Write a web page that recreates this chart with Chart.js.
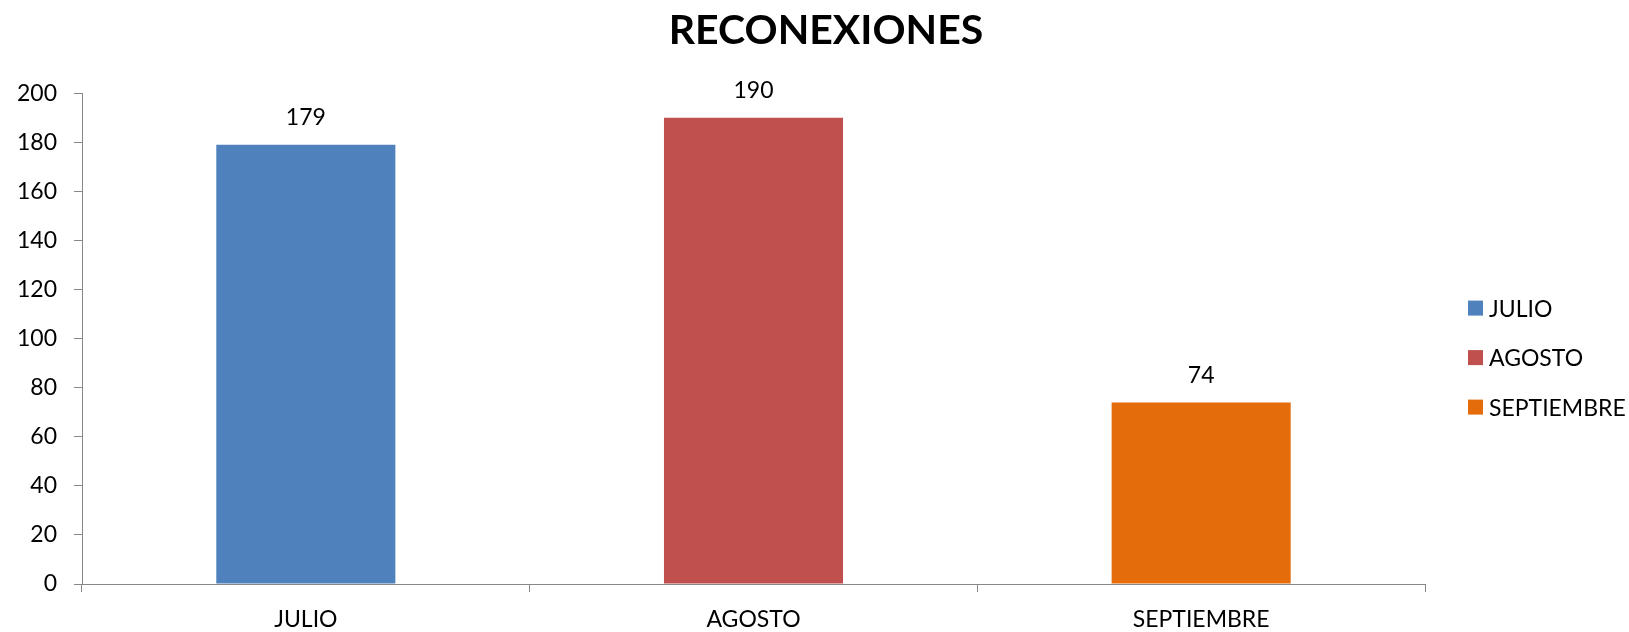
<!DOCTYPE html>
<html>
<head>
    <meta charset="utf-8" />
    <title>Reconexiones</title>
    <style>
        body {
            margin: 0;
            background: #fff;
        }
    </style>
</head>
<body>
    <canvas id="chartCanvas" width="1629" height="632"></canvas>

<script src="https://cdn.jsdelivr.net/npm/chart.js@4.4.0/dist/chart.umd.min.js"></script>
<script>
    // data
    var months = ["JULIO", "AGOSTO", "SEPTIEMBRE"];
    var reconexiones = [179, 190, 74];
    var barColors = ["#4F81BD", "#C0504D", "#E46C0A"];
    var yTicks = [0, 20, 40, 60, 80, 100, 120, 140, 160, 180, 200];

    var fontFamily = "Lato, 'Open Sans', sans-serif";
    var axisGray = "#888888";

    // values above each bar
    var valueLabels = {
        id: 'valueLabels',
        afterDatasetsDraw: function (chart) {
            var ctx = chart.ctx;
            var meta = chart.getDatasetMeta(0);
            ctx.save();
            ctx.font = "23px " + fontFamily;
            ctx.fillStyle = "#000";
            ctx.textAlign = "center";
            ctx.textBaseline = "middle";
            meta.data.forEach(function (bar, i) {
                ctx.fillText(String(reconexiones[i]), bar.x, bar.y - 27);
            });
            ctx.restore();
        }
    };

    // legend on the right, one entry per month
    var sideLegend = {
        id: 'sideLegend',
        afterDraw: function (chart) {
            var ctx = chart.ctx;
            var area = chart.chartArea;
            var mid = (area.top + area.bottom) / 2 + 19;
            var x = area.right + 43;
            ctx.save();
            ctx.font = "23px " + fontFamily;
            ctx.textAlign = "left";
            ctx.textBaseline = "middle";
            months.forEach(function (m, i) {
                var y = mid + (i - 1) * 49.5;
                ctx.fillStyle = barColors[i];
                ctx.fillRect(x, y - 7.5, 15, 15);
                ctx.fillStyle = "#000";
                ctx.fillText(m, x + 21, y + 1);
            });
            ctx.restore();
        }
    };

    var ctx_1 = document.getElementById("chartCanvas").getContext("2d");
    var chart1 = new Chart(ctx_1, {
        type: "bar",
        data: {
            labels: months,
            datasets: [{
                label: "RECONEXIONES",
                data: reconexiones,
                backgroundColor: barColors,
                borderWidth: 0,
                barPercentage: 0.4,
                categoryPercentage: 1.0
            }]
        },
        plugins: [valueLabels, sideLegend],
        options: {
            responsive: false,
            animation: false,
            layout: {
                // negative right padding pushes the title centre right, like the original
                padding: { left: 0, right: -23, top: 0, bottom: 0 }
            },
            plugins: {
                legend: { display: false },
                tooltip: { enabled: false },
                title: {
                    display: true,
                    text: "RECONEXIONES",
                    color: "#000",
                    font: { family: fontFamily, size: 41, weight: "bold" },
                    padding: { top: 6, bottom: 38 }
                }
            },
            scales: {
                x: {
                    afterFit: function (axis) { axis.height = 48; },
                    grid: {
                        offset: true,
                        drawOnChartArea: false,
                        drawTicks: true,
                        tickLength: 8,
                        color: axisGray
                    },
                    border: { color: axisGray, width: 1 },
                    ticks: {
                        color: "#000",
                        padding: 14,
                        font: { family: fontFamily, size: 23 }
                    }
                },
                y: {
                    min: 0,
                    max: 200,
                    afterFit: function (axis) { axis.width = 82; },
                    afterBuildTicks: function (axis) {
                        axis.ticks = yTicks.map(function (v) { return { value: v }; });
                    },
                    grid: {
                        drawOnChartArea: false,
                        drawTicks: true,
                        tickLength: 8,
                        color: axisGray
                    },
                    border: { color: axisGray, width: 1 },
                    ticks: {
                        color: "#000",
                        padding: 17,
                        font: { family: fontFamily, size: 23 }
                    }
                },
                // empty right axis that keeps room for the legend
                legendRoom: {
                    position: "right",
                    afterFit: function (axis) { axis.width = 227; },
                    grid: { display: false },
                    border: { display: false },
                    ticks: { display: false }
                }
            }
        }
    });
</script>
</body>
</html>
